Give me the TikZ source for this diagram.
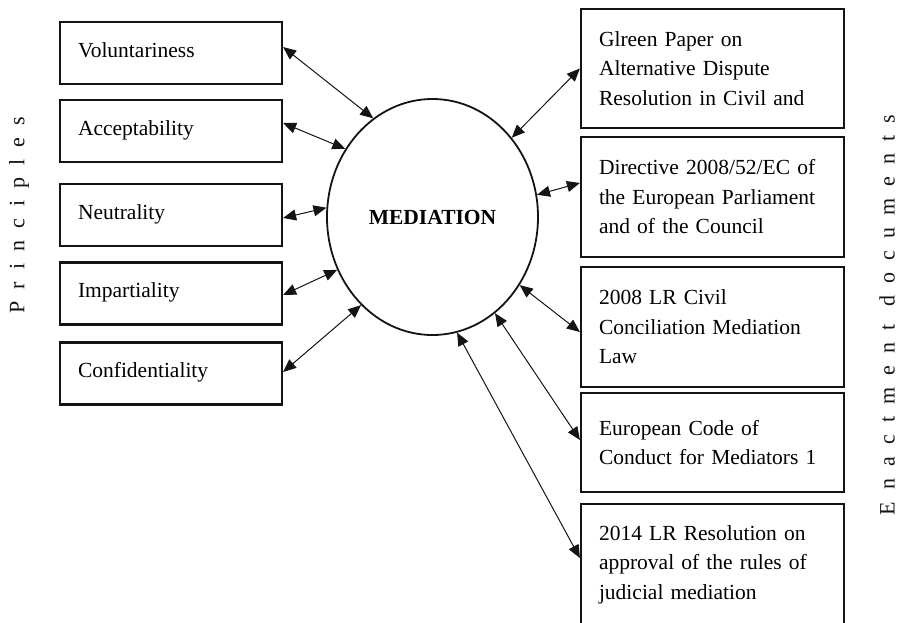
\documentclass[tikz,border=0pt]{standalone}
\usepackage{fontspec}
\setmainfont{Liberation Serif}
\newfontfamily\sidefont{Liberation Serif}[LetterSpace=55]
\usepackage{tikz}
\usetikzlibrary{positioning,arrows.meta,shapes.geometric}
\definecolor{ink}{HTML}{141414}
\tikzset{
  pbox/.style={draw=ink, line width=2.2pt, align=left, inner xsep=18pt,
               minimum width=222pt, minimum height=62pt, text width=186pt,
               text height=14pt, text depth=6pt,
               font=\fontsize{21.5}{29.5}\selectfont},
  dbox/.style={draw=ink, line width=2.2pt, align=left, inner xsep=18pt,
               minimum width=263pt, minimum height=120pt, text width=227pt,
               font=\fontsize{21.5}{29.5}\selectfont},
  hub/.style={ellipse, draw=ink, line width=1.8pt, inner sep=0pt,
              minimum width=211pt, minimum height=236pt,
              font=\fontsize{21.5}{24}\selectfont\bfseries},
  link/.style={{Triangle[length=13pt,width=11pt]}-{Triangle[length=13pt,width=11pt]},
               line width=1pt, color=ink},
  side/.style={rotate=90, color=ink, font=\sidefont\fontsize{22}{22}\selectfont},
}

\begin{document}
\begin{tikzpicture}[x=1pt, y=-1pt]
\useasboundingbox (0,0) rectangle (900,622);
\clip (0,0) rectangle (900,622);

\node[hub] (med) at (432.5,217) {MEDIATION};

% principles
\node[pbox] (vol) at (171,53)    {Voluntariness};
\node[pbox] (acc) at (171,131)   {Acceptability};
\node[pbox] (neu) at (171,215)   {Neutrality};
\node[pbox] (imp) at (171,293.5) {Impartiality};
\node[pbox] (con) at (171,373.5) {Confidentiality};
\node[side] (prin) at (19,215) {Principles};

% enactment documents
\node[dbox, minimum height=119pt] (green) at (712.5,68.5) {Glreen Paper on\\Alternative Dispute\\Resolution in Civil and};
\node[dbox] (dir)   at (712.5,197)  {Directive 2008/52/EC of\\the European Parliament\\and of the Council};
\node[dbox] (lrlaw) at (712.5,327)  {2008 LR Civil\\Conciliation Mediation\\Law};
\node[dbox, minimum height=99pt] (code) at (712.5,442.5) {European Code of\\Conduct for Mediators 1};
\node[dbox, minimum height=121pt] (resol) at (712.5,564.5) {2014 LR Resolution on\\approval of the rules of\\judicial mediation};
\node[side] (enact) at (887,315) {Enactment documents};

\draw[link] ([yshift=6pt]vol.east) -- (med.121.8);
\draw[link] ([yshift=8pt]acc.east) -- (med.142.7);
\draw[link] ([yshift=-3pt]neu.east) -- (med.175.7);
\draw[link] ([yshift=-1.5pt]imp.east) -- (med.209.3);
\draw[link] ([yshift=1.5pt]con.east) -- (med.231.5);

\draw[link] (med.45.9) -- (green.west);
\draw[link] (med.12.8) -- ([yshift=14pt]dir.west);
\draw[link] (med.-38) -- ([yshift=-5pt]lrlaw.west);
\draw[link] (med.-57.8) -- ([yshift=2.5pt]code.west);
\draw[link] (med.-78) -- ([yshift=6.5pt]resol.west);

\end{tikzpicture}
\end{document}
